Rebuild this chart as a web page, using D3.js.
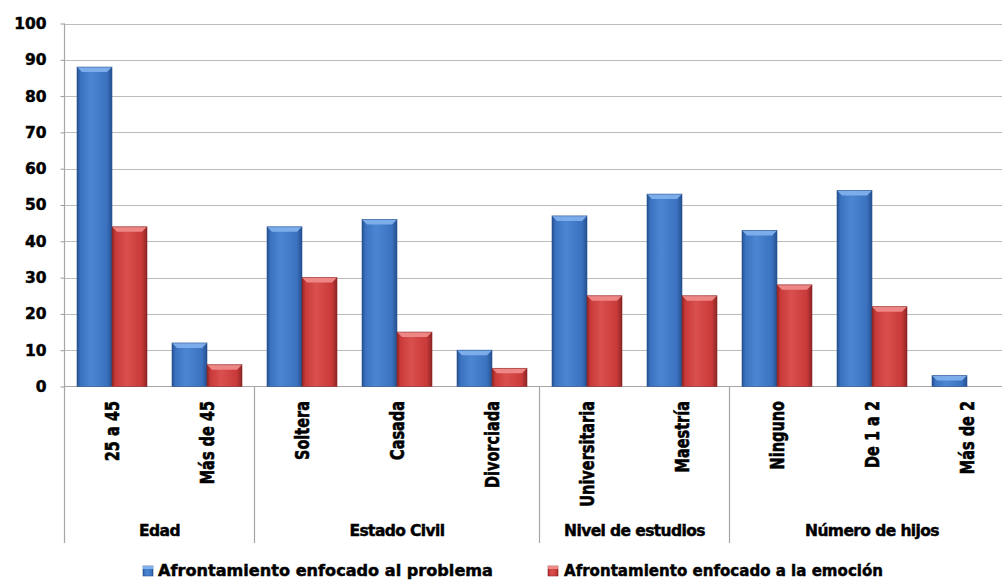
<!DOCTYPE html>
<html>
<head>
<meta charset="utf-8">
<script src="https://cdn.jsdelivr.net/npm/d3@7"></script>
<style>
  html, body { margin: 0; padding: 0; background: #fff; }
  svg { display: block; }
  text { font-family: "DejaVu Sans", Verdana, sans-serif; font-weight: bold; fill: #000;
         stroke: #000; stroke-width: 0.45px; }
</style>
</head>
<body>
<svg id="chart" width="1002" height="581"></svg>
<script>
// Categories grouped by variable
const categories = ["25 a 45", "Más de 45", "Soltera", "Casada", "Divorciada",
                    "Universitaria", "Maestría", "Ninguno", "De 1 a 2", "Más de 2"];
const groups = [
  { name: "Edad", size: 2 },
  { name: "Estado Civil", size: 3 },
  { name: "Nivel de estudios", size: 2 },
  { name: "Número de hijos", size: 3 }
];
const seriesNames = ["Afrontamiento enfocado al problema", "Afrontamiento enfocado a la emoción"];
const problema = [88, 12, 44, 46, 10, 47, 53, 43, 54, 3];
const emocion  = [44, 6, 30, 15, 5, 25, 25, 28, 22, 0];
const yTicks = [0, 10, 20, 30, 40, 50, 60, 70, 80, 90, 100];

const palette = [
  { base: "#3B72C0", light: "#4C86D2", dark: "#25508F", top: "#7FB0EC" },
  { base: "#C93A39", light: "#D9504E", dark: "#8C2626", top: "#EE8A88" }
];

const svg = d3.select("#chart");
const plotLeft = 64.5, plotRight = 1014.5, plotTop = 23.5, plotBottom = 386.5, axisBottom = 543;

const x0 = d3.scaleBand().domain(categories).range([plotLeft, plotRight]).paddingInner(0).paddingOuter(0);
const groupInner = 70;
const x1 = d3.scaleBand().domain(seriesNames).range([0, groupInner]);
const y = d3.scaleLinear().domain([0, 100]).range([plotBottom, plotTop]);

// Gradients for the bevelled bars
const defs = svg.append("defs");
palette.forEach((p, i) => {
  const g = defs.append("linearGradient").attr("id", "grad" + i)
    .attr("x1", "0").attr("x2", "1").attr("y1", "0").attr("y2", "0");
  g.append("stop").attr("offset", "0").attr("stop-color", p.dark);
  g.append("stop").attr("offset", "0.1").attr("stop-color", p.base);
  g.append("stop").attr("offset", "0.4").attr("stop-color", p.light);
  g.append("stop").attr("offset", "0.85").attr("stop-color", p.base);
  g.append("stop").attr("offset", "1").attr("stop-color", p.dark);
});

// Horizontal gridlines
svg.append("g").selectAll("line").data(yTicks.filter(d => d > 0)).join("line")
  .attr("x1", plotLeft).attr("x2", plotRight)
  .attr("y1", d => Math.round(y(d)) + 0.5).attr("y2", d => Math.round(y(d)) + 0.5)
  .attr("stroke", "#bcbcbc").attr("stroke-width", 1.2);

// Y axis with ticks and labels
const yAxis = d3.axisLeft(y).tickValues(yTicks).tickSize(4).tickPadding(14);
const yg = svg.append("g").attr("transform", `translate(${plotLeft},0)`).call(yAxis);
yg.select(".domain").remove();
yg.selectAll(".tick line").attr("stroke", "#9a9a9a");
yg.selectAll(".tick text").attr("font-size", 15.5).attr("font-family", "DejaVu Sans")
  .attr("font-weight", "bold").attr("fill", "#000");

// Axis lines: left axis and group separators
const boundaries = [];
let idx = 0;
groups.forEach(g => { boundaries.push(idx); idx += g.size; });
boundaries.push(idx);
svg.append("line").attr("x1", plotLeft).attr("x2", plotLeft).attr("y1", plotTop).attr("y2", axisBottom)
  .attr("stroke", "#a6a6a6").attr("stroke-width", 1.2);
svg.append("line").attr("x1", plotLeft).attr("x2", plotRight).attr("y1", plotBottom).attr("y2", plotBottom)
  .attr("stroke", "#a6a6a6").attr("stroke-width", 1.2);
svg.append("g").selectAll("line").data(boundaries.slice(1)).join("line")
  .attr("x1", d => d < categories.length ? x0(categories[d]) : plotRight)
  .attr("x2", d => d < categories.length ? x0(categories[d]) : plotRight)
  .attr("y1", plotBottom).attr("y2", axisBottom)
  .attr("stroke", "#a6a6a6").attr("stroke-width", 1.2);

// Bars
const rows = categories.map((c, i) => ({ cat: c, values: [problema[i], emocion[i]] }));
const offset = (x0.bandwidth() - groupInner) / 2;
const barG = svg.append("g");
rows.forEach(r => {
  r.values.forEach((v, si) => {
    if (v <= 0) return;
    const p = palette[si];
    const bx = x0(r.cat) + offset + x1(seriesNames[si]);
    const bw = x1.bandwidth();
    const by = y(v), bh = y(0) - y(v);
    const b = Math.min(5, bh / 2);
    const g = barG.append("g");
    g.append("rect").attr("x", bx).attr("y", by).attr("width", bw).attr("height", bh)
      .attr("fill", `url(#grad${si})`);
    // top bevel
    g.append("polygon")
      .attr("points", [[bx, by], [bx + bw, by], [bx + bw - b, by + b], [bx + b, by + b]].join(" "))
      .attr("fill", p.top).attr("opacity", 0.95);
    // outline
    g.append("rect").attr("x", bx).attr("y", by).attr("width", bw).attr("height", bh)
      .attr("fill", "none").attr("stroke", p.dark).attr("stroke-width", 0.8).attr("opacity", 0.7);
  });
});

// Category labels, rotated
svg.append("g").selectAll("text").data(categories).join("text")
  .attr("transform", d => `translate(${x0(d) + x0.bandwidth() / 2},401) scale(1.35,1) rotate(-90)`)
  .attr("text-anchor", "end").attr("dominant-baseline", "central")
  .attr("font-family", "DejaVu Sans Condensed, DejaVu Sans")
  .attr("font-size", 14.5)
  .text(d => d);

// Group labels
let start = 0;
const groupPos = groups.map(g => {
  const a = x0(categories[start]);
  const endIdx = start + g.size;
  const b = endIdx < categories.length ? x0(categories[endIdx]) : plotRight;
  start = endIdx;
  return { name: g.name, cx: (a + b) / 2 };
});
svg.append("g").selectAll("text").data(groupPos).join("text")
  .attr("x", d => d.cx).attr("y", 531).attr("text-anchor", "middle")
  .attr("dominant-baseline", "central").attr("font-size", 15.5)
  .attr("letter-spacing", -0.6)
  .text(d => d.name);

// Legend
const legendItems = [
  { name: seriesNames[0], sx: 143, tx: 158, tw: 335 },
  { name: seriesNames[1], sx: 548, tx: 564, tw: 319 }
];
const lg = svg.append("g");
legendItems.forEach((d, i) => {
  const p = palette[i];
  lg.append("rect").attr("x", d.sx).attr("y", 566).attr("width", 10).attr("height", 10)
    .attr("fill", `url(#grad${i})`).attr("stroke", p.dark).attr("stroke-width", 0.6);
  lg.append("rect").attr("x", d.sx).attr("y", 566).attr("width", 10).attr("height", 3)
    .attr("fill", p.top);
  lg.append("text").attr("x", d.tx).attr("y", 571).attr("dominant-baseline", "central")
    .attr("font-size", 15).attr("textLength", d.tw).attr("lengthAdjust", "spacingAndGlyphs")
    .text(d.name);
});
</script>
</body>
</html>
